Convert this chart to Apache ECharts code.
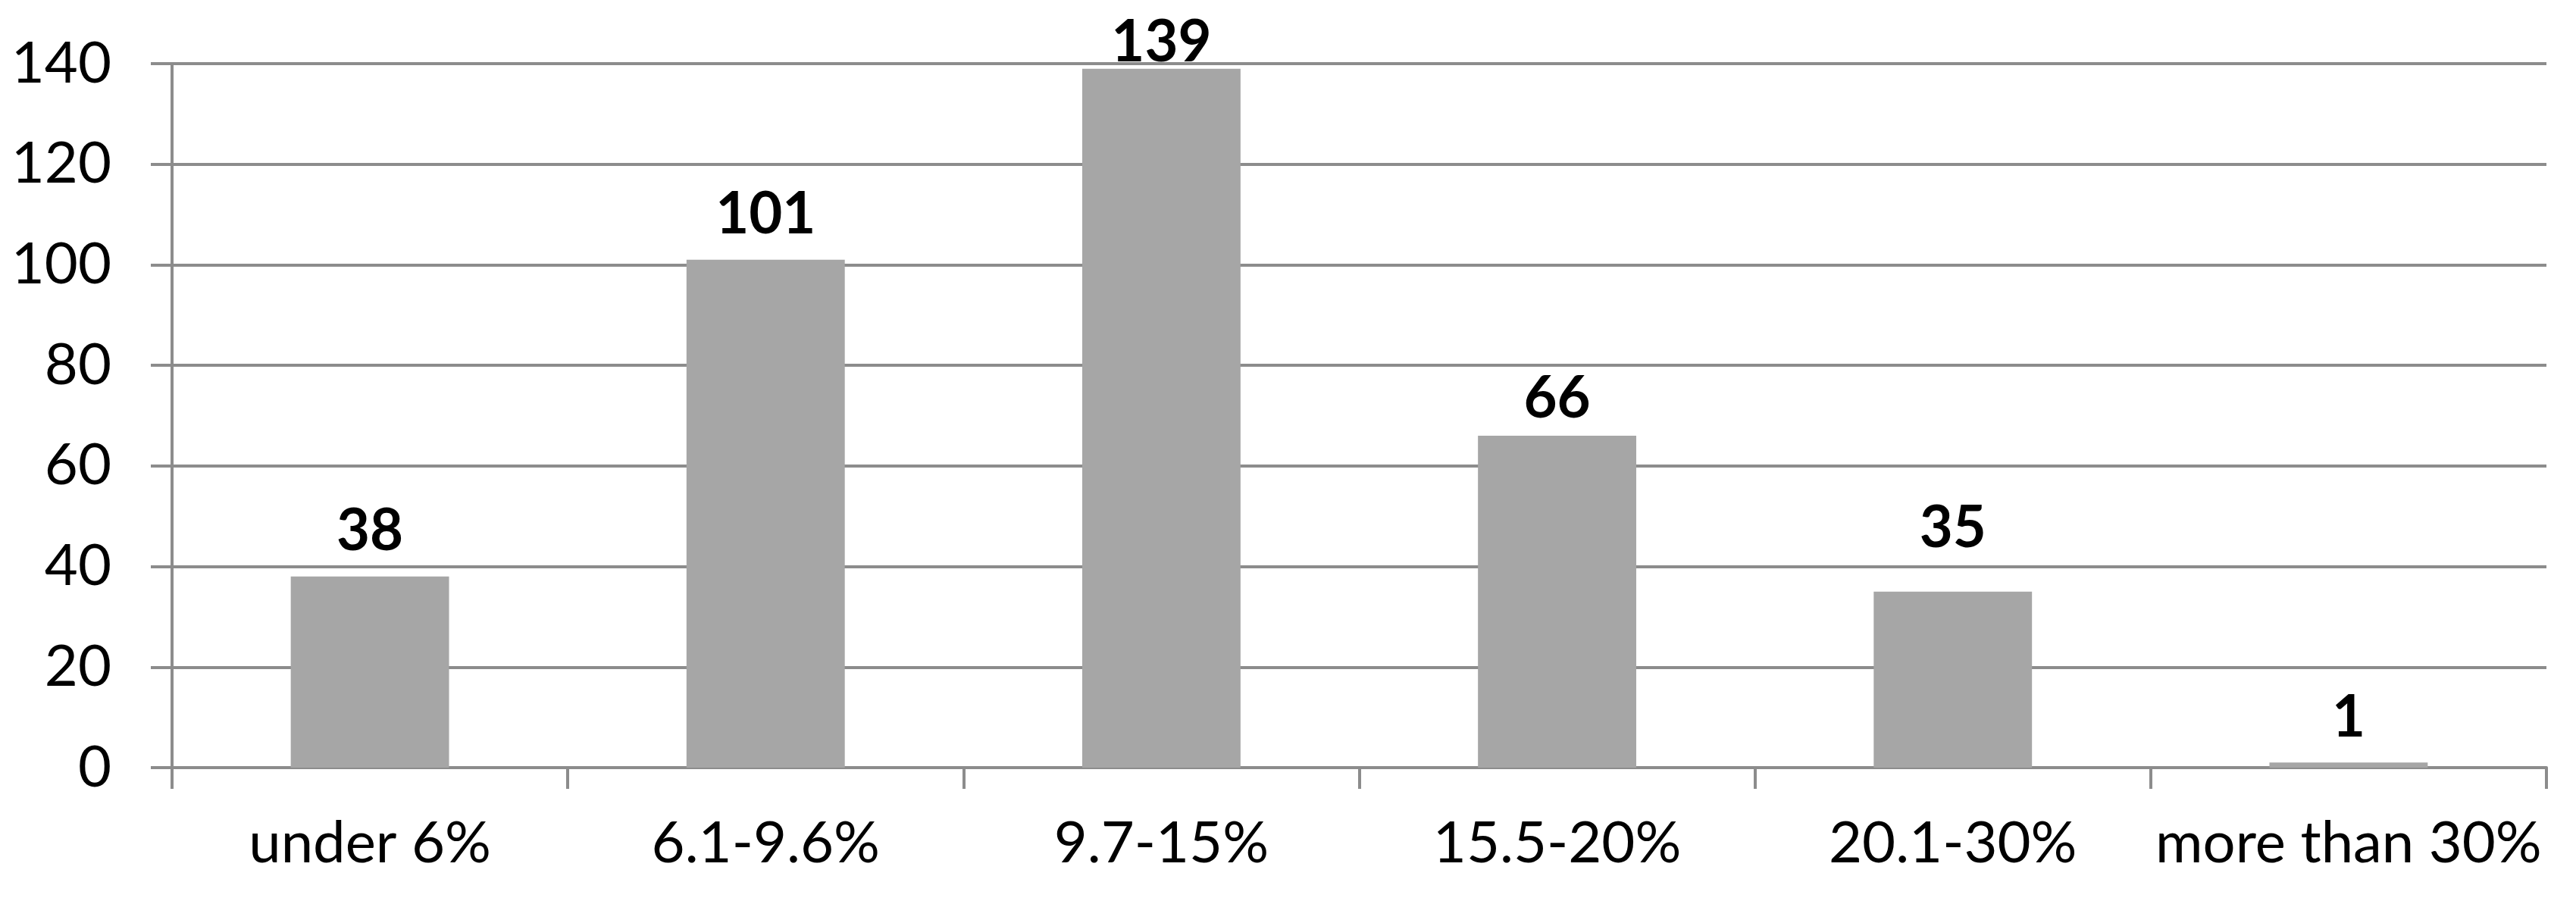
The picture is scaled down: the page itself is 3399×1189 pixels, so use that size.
<!DOCTYPE html>
<html>
<head>
<meta charset="utf-8">
<style>
  html, body { margin: 0; padding: 0; background: #fff; }
  #chart { width: 3399px; height: 1189px; }
</style>
<script src="https://cdn.jsdelivr.net/npm/echarts@6/dist/echarts.min.js"></script>
</head>
<body>
<div id="chart"></div>
<script>
// categories and counts
const categories = ['under 6%', '6.1-9.6%', '9.7-15%', '15.5-20%', '20.1-30%', 'more than 30%']
const counts = [38, 101, 139, 66, 35, 1]
const yMin = 0
const yMax = 140
const yStep = 20

// label placement in the original is uneven (hand-moved labels), px above bar top
const labelDistances = [21, 21, -4, 11, 45, 21]

const gridColor = '#8c8c8c'

const chart = echarts.init(document.getElementById('chart'))
chart.setOption({
  backgroundColor: '#ffffff',
  animation: false,
  grid: { left: 227, right: 39, top: 84, bottom: 176, containLabel: false },
  xAxis: {
    type: 'category',
    data: categories,
    boundaryGap: true,
    axisLine: { show: true, lineStyle: { color: gridColor, width: 4 } },
    axisTick: { show: true, alignWithLabel: false, length: 28, lineStyle: { color: gridColor, width: 4 } },
    axisLabel: { color: '#000', fontFamily: 'Lato', fontSize: 76, margin: 62, interval: 0 }
  },
  yAxis: {
    type: 'value',
    min: yMin,
    max: yMax,
    interval: yStep,
    axisLine: { show: true, lineStyle: { color: gridColor, width: 4 } },
    axisTick: { show: true, length: 28, lineStyle: { color: gridColor, width: 4 } },
    splitLine: { show: true, lineStyle: { color: gridColor, width: 4 } },
    axisLabel: { color: '#000', fontFamily: 'Lato', fontSize: 76, margin: 80 }
  },
  series: [
    {
      type: 'bar',
      data: counts.map((v, i) => ({ value: v, label: { distance: labelDistances[i] } })),
      barWidth: '40%',
      itemStyle: { color: '#a6a6a6' },
      label: {
        show: true,
        position: 'top',
        color: '#000',
        fontFamily: 'Lato',
        fontWeight: 'bold',
        fontSize: 76
      }
    }
  ]
})
</script>
</body>
</html>
